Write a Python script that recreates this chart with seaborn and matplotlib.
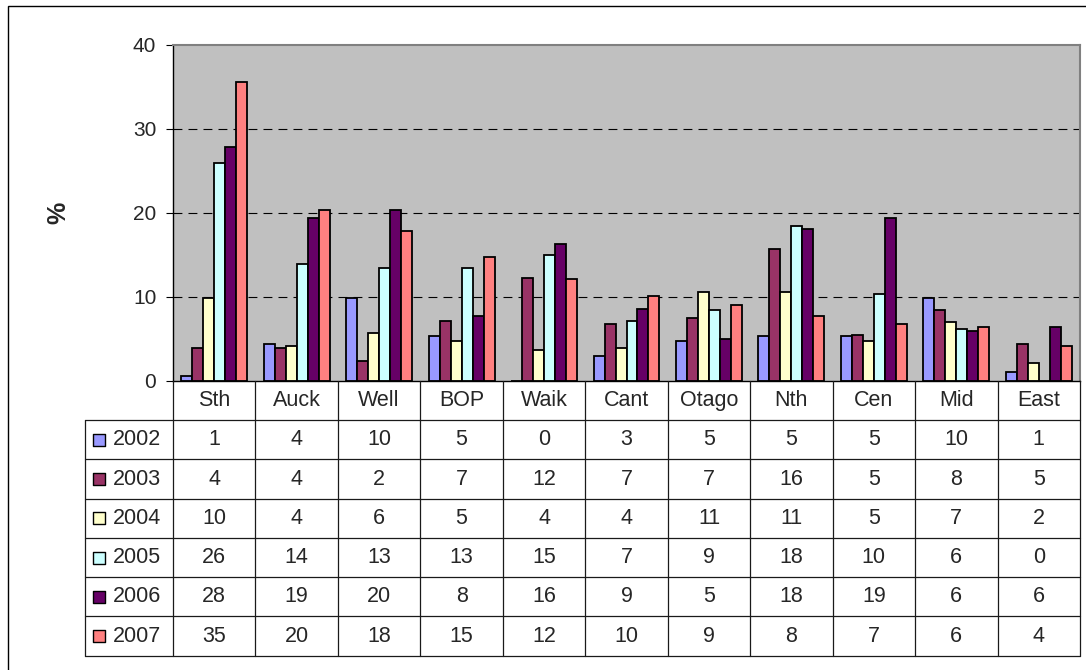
import matplotlib
matplotlib.use("Agg")
import matplotlib.pyplot as plt
from matplotlib.patches import Rectangle
import numpy as np
import pandas as pd
import seaborn as sns

# ── data ───────────────────────────────────────────────────────────────────
regions = ["Sth", "Auck", "Well", "BOP", "Waik", "Cant", "Otago", "Nth", "Cen", "Mid", "East"]
years = ["2002", "2003", "2004", "2005", "2006", "2007"]

# bar heights (%)
y2002 = [0.6, 4.4, 9.9, 5.4, 0.0, 3.0, 4.8, 5.3, 5.3, 9.9, 1.1]
y2003 = [3.9, 3.9, 2.4, 7.2, 12.3, 6.8, 7.5, 15.7, 5.5, 8.4, 4.4]
y2004 = [9.9, 4.2, 5.7, 4.8, 3.7, 3.9, 10.6, 10.6, 4.8, 7.0, 2.2]
y2005 = [26.0, 13.9, 13.5, 13.4, 15.0, 7.2, 8.5, 18.5, 10.4, 6.2, 0.0]
y2006 = [27.8, 19.4, 20.3, 7.7, 16.3, 8.6, 5.0, 18.1, 19.4, 5.9, 6.4]
y2007 = [35.6, 20.3, 17.9, 14.8, 12.1, 10.1, 9.0, 7.7, 6.8, 6.4, 4.2]

# values printed in the data table
t2002 = [1, 4, 10, 5, 0, 3, 5, 5, 5, 10, 1]
t2003 = [4, 4, 2, 7, 12, 7, 7, 16, 5, 8, 5]
t2004 = [10, 4, 6, 5, 4, 4, 11, 11, 5, 7, 2]
t2005 = [26, 14, 13, 13, 15, 7, 9, 18, 10, 6, 0]
t2006 = [28, 19, 20, 8, 16, 9, 5, 18, 19, 6, 6]
t2007 = [35, 20, 18, 15, 12, 10, 9, 8, 7, 6, 4]

colors = ["#9999FF", "#993366", "#FFFFCC", "#CCFFFF", "#660066", "#FF8080"]

bars = [y2002, y2003, y2004, y2005, y2006, y2007]
table = [t2002, t2003, t2004, t2005, t2006, t2007]

df = pd.DataFrame(
    [(r, yr, v) for yr, vals in zip(years, bars) for r, v in zip(regions, vals)],
    columns=["region", "year", "value"],
)

# ── figure ─────────────────────────────────────────────────────────────────
sns.set_style("white")
plt.rcParams["font.family"] = ["Liberation Sans", "DejaVu Sans"]

W, H = 1086, 670
fig = plt.figure(figsize=(W / 100, H / 100), dpi=100)
fig.patch.set_facecolor("white")

px_l, px_r, px_t, px_b = 173, 1080, 45, 381
ax = fig.add_axes([px_l / W, (H - px_b) / H, (px_r - px_l) / W, (px_b - px_t) / H])
ax.set_facecolor("#C0C0C0")

sns.barplot(data=df, x="region", y="value", hue="year", hue_order=years,
            order=regions, palette=dict(zip(years, colors)), saturation=1,
            edgecolor="black", linewidth=1.3, errorbar=None, legend=False,
            width=0.8, ax=ax)

ax.set_xlim(-0.5, len(regions) - 0.5)
ax.set_ylim(0, 40)
ax.set_yticks([0, 10, 20, 30, 40])
ax.set_xticks([])
ax.set_xlabel("")
ax.tick_params(axis="y", direction="out", length=5, width=0.8, color="black",
               labelsize=15, pad=7, left=True)
for v in [10, 20, 30]:
    ax.axhline(v, color="black", lw=0.8, linestyle=(0, (8, 5.5)), zorder=0.5)
ax.set_axisbelow(True)
for side in ["left", "bottom"]:
    ax.spines[side].set_color("black")
    ax.spines[side].set_linewidth(1.0)
for side in ["top", "right"]:
    ax.spines[side].set_color("#808080")
    ax.spines[side].set_linewidth(1.5)
ax.set_ylabel("%", fontsize=18, fontweight="bold")
ax.yaxis.set_label_coords(-0.113, 0.5)

# ── data table under the plot ──────────────────────────────────────────────
tab_b = 655.7
tax = fig.add_axes([px_l / W, (H - tab_b) / H, (px_r - px_l) / W, (tab_b - px_b) / H],
                   sharex=ax)
tax.set_ylim(0, 7)
tax.axis("off")

n = len(regions)
lab_left = -0.5 - (px_l - 84.7) / ((px_r - px_l) / n)
lc = "#1a1a1a"
lw = 0.9
# horizontal rules
for yy in range(0, 7):
    tax.plot([lab_left, n - 0.5], [yy, yy], color=lc, lw=lw, clip_on=False)
# vertical rules
tax.plot([lab_left, lab_left], [0, 6], color=lc, lw=lw, clip_on=False)
for xx in np.arange(-0.5, n, 1.0):
    tax.plot([xx, xx], [0, 7], color=lc, lw=lw, clip_on=False)

for i, r in enumerate(regions):
    tax.text(i, 6.5, r, ha="center", va="center", fontsize=15.5)

unit = (px_r - px_l) / n
sq_x = -0.5 - (px_l - 99) / unit
txt_x = -0.5 - (px_l - 112.5) / unit
for k, (yr, c, vals) in enumerate(zip(years, colors, table)):
    yy = 5.5 - k
    tax.scatter([sq_x], [yy], marker="s", s=70, color=c, edgecolor="black",
                linewidth=1.0, clip_on=False, zorder=3)
    tax.text(txt_x, yy, yr, ha="left", va="center", fontsize=15.5)
    for i, v in enumerate(vals):
        tax.text(i, yy, str(v), ha="center", va="center", fontsize=15.5)

# outer chart frame (runs off the right and bottom edges)
fig.patches.append(Rectangle((8 / W, -0.1), 2.0, 1.1 - 5.5 / H, transform=fig.transFigure,
                             fill=False, edgecolor="black", lw=1.0))

fig.savefig("out.png", dpi=100, facecolor="white")
